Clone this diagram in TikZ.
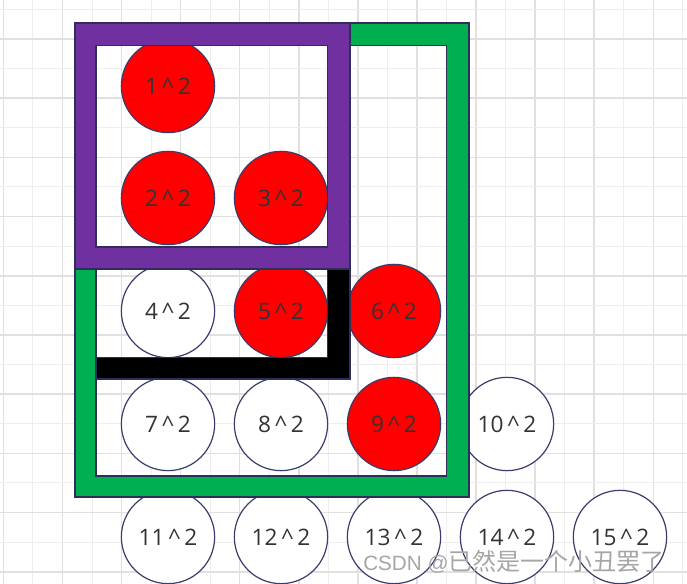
\documentclass[tikz,border=0pt]{standalone}
\usepackage{fontspec}
\setmainfont{Open Sans}
\newfontfamily\wmlatin{Liberation Sans}
\newfontfamily\cjk{Noto Sans CJK SC}
\begin{document}
\begin{tikzpicture}[x=0.75pt,y=-0.75pt,
  sq/.style={circle,draw=circline,line width=0.9pt,minimum size=70pt,inner sep=0pt,
             font=\fontsize{17}{20}\selectfont,text=txt},
  red/.style={sq,fill=red},
  wht/.style={sq,fill=white},
  band/.style={even odd rule,draw=edge,line width=0.8pt},
  minorline/.style={draw=gridminor,line width=0.75pt},
  majorline/.style={draw=gridmajor,line width=1.1pt}]
\definecolor{gridminor}{HTML}{EEEEEE}
\definecolor{gridmajor}{HTML}{E0E0E0}
\definecolor{circline}{HTML}{3C3C6A}
\definecolor{edge}{HTML}{2E2E5C}
\definecolor{txt}{HTML}{333333}
\definecolor{pgreen}{HTML}{00B050}
\definecolor{ppurple}{HTML}{7030A0}
\definecolor{wm}{HTML}{A6A6A6}
\useasboundingbox (0,0) rectangle (687,584);
\fill[white] (0,0) rectangle (687,584);
% grid
\foreach \i in {0,...,23} {
  \pgfmathsetmacro{\xx}{3.4+29.54*\i}
  \ifodd\i \draw[minorline] (\xx,0) -- (\xx,584); \else \draw[majorline] (\xx,0) -- (\xx,584); \fi
}
\foreach \j in {0,...,19} {
  \pgfmathsetmacro{\yy}{9.4+29.6*\j}
  \ifodd\j \draw[majorline] (0,\yy) -- (687,\yy); \else \draw[minorline] (0,\yy) -- (687,\yy); \fi
}
% circles
\node[red] (c1) at (168,86) {1\,\^{}\,2};
\node[red] (c2) at (168,198) {2\,\^{}\,2};
\node[red] (c3) at (281,198) {3\,\^{}\,2};
\node[wht] (c4) at (168,311) {4\,\^{}\,2};
\node[red] (c5) at (281,311) {5\,\^{}\,2};
\node[red] (c6) at (394,311) {6\,\^{}\,2};
\node[wht] (c7) at (168,424) {7\,\^{}\,2};
\node[wht] (c8) at (281,424) {8\,\^{}\,2};
\node[red] (c9) at (394,424) {9\,\^{}\,2};
\node[wht] (c10) at (507,424) {10\,\^{}\,2};
\node[wht] (c11) at (168,537) {11\,\^{}\,2};
\node[wht] (c12) at (281,537) {12\,\^{}\,2};
\node[wht] (c13) at (394,537) {13\,\^{}\,2};
\node[wht] (c14) at (507,537) {14\,\^{}\,2};
\node[wht] (c15) at (620,537) {15\,\^{}\,2};
% frames
\path[band,fill=pgreen] (75,23) rectangle (469,497) (96,45.7) rectangle (446.7,476);
\path[band,fill=ppurple] (75,23) rectangle (350,269) (96,45.7) rectangle (327.7,247);
\path[draw=edge,line width=0.8pt,fill=black] (327.7,269) -- (350,269) -- (350,379) -- (96,379) -- (96,357.7) -- (327.7,357.7) -- cycle;
% watermark
\node[anchor=west,inner sep=0pt,text=wm] (wmk) at (363,562)
  {\wmlatin\fontsize{15.5}{18}\selectfont CSDN @\cjk\fontsize{18}{20}\selectfont 已然是一个小丑罢了};
\end{tikzpicture}
\end{document}
